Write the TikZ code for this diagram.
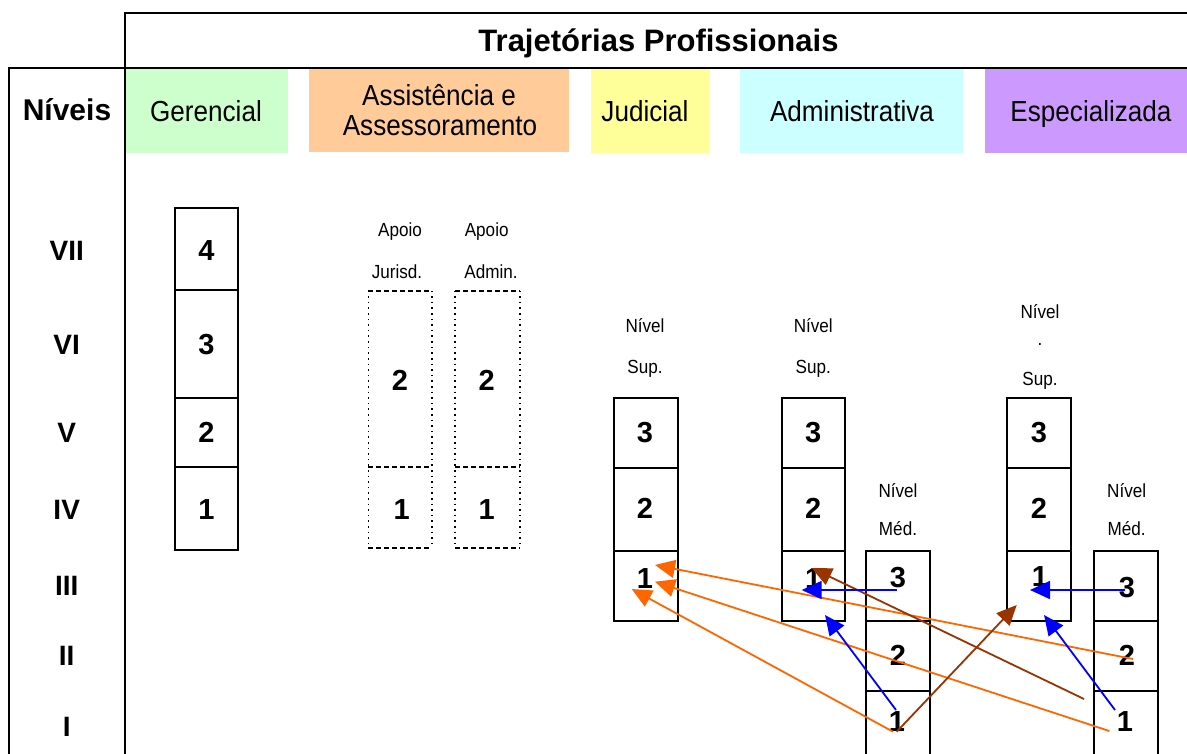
\documentclass[tikz,border=0pt]{standalone}
\usepackage{fontspec}
\setmainfont{Liberation Sans}
\newfontfamily\nar[FakeStretch=0.9]{Liberation Sans}
\usetikzlibrary{arrows.meta}
\definecolor{cGer}{HTML}{CCFFCC}
\definecolor{cAss}{HTML}{FFCC99}
\definecolor{cJud}{HTML}{FFFF99}
\definecolor{cAdm}{HTML}{CCFFFF}
\definecolor{cEsp}{HTML}{CC99FF}
\definecolor{cOr}{HTML}{FF6600}
\definecolor{cBr}{HTML}{993300}
\definecolor{cBl}{HTML}{0000FF}
\begin{document}
\begin{tikzpicture}[x=1pt,y=-1pt,
  frame/.style={line width=2pt},
  hdrbox/.style={anchor=north west, inner sep=0pt, outer sep=0pt},
  hdrtxt/.style={anchor=base, inner sep=0pt, font=\nar\fontsize{29}{31}\selectfont},
  title/.style={anchor=base, inner sep=0pt, font=\bfseries\fontsize{31}{33}\selectfont},
  roman/.style={inner sep=0pt, font=\bfseries\fontsize{28}{30}\selectfont},
  num/.style={inner sep=0pt, font=\bfseries\fontsize{29}{31}\selectfont},
  small/.style={anchor=base, inner sep=0pt, font=\nar\fontsize{19}{21}\selectfont},
  cell/.style={draw, line width=2pt, anchor=north west, inner sep=0pt, outer sep=0pt},
  dotv/.style={line width=1.6pt, dash pattern=on 1.6pt off 4pt},
  doth/.style={line width=1.8pt, dash pattern=on 5pt off 3pt},
  arr/.style={line width=1.8pt, -{Triangle[length=20pt,width=18pt]}},
  arrO/.style={arr, draw=cOr, fill=cOr},
  arrB/.style={arr, draw=cBr, fill=cBr},
  arrL/.style={arr, draw=cBl, fill=cBl}
]
\useasboundingbox (0,0) rectangle (1187,754);
\fill[white] (0,0) rectangle (1187,754);

% header colour boxes
\node[hdrbox, fill=cGer, minimum width=162pt, minimum height=85pt] (hGer) at (126,68) {};
\node[hdrbox, fill=cAss, minimum width=260pt, minimum height=84pt] (hAss) at (309,68) {};
\node[hdrbox, fill=cJud, minimum width=119pt, minimum height=85pt] (hJud) at (591,68) {};
\node[hdrbox, fill=cAdm, minimum width=223pt, minimum height=85pt] (hAdm) at (740,68) {};
\node[hdrbox, fill=cEsp, minimum width=203pt, minimum height=85pt] (hEsp) at (985,68) {};

% frame
\coordinate (fTL) at (125,12.7);
\coordinate (fTR) at (1187,12.7);
\coordinate (fML) at (9,67.7);
\coordinate (fMR) at (1187,67.7);
\coordinate (fB1) at (9,754);
\coordinate (fB2) at (125,754);
\draw[frame] (fTR) -- (fTL) -- (fB2);
\draw[frame] (fMR) -- (fML) -- (fB1);

% header texts
\node[title] (tTit) at (658.5,52) {Trajetórias Profissionais};
\node[title, font=\bfseries\fontsize{30}{32}\selectfont] (tNiv) at (67,121) {Níveis};
\node[hdrtxt] (tGer) at (206,121.7) {Gerencial};
\node[hdrtxt] (tAss1) at (439,106) {Assistência e};
\node[hdrtxt] (tAss2) at (440,136) {Assessoramento};
\node[hdrtxt] (tJud) at (645,121.7) {Judicial};
\node[hdrtxt] (tAdm) at (852,121.7) {Administrativa};
\node[hdrtxt] (tEsp) at (1091,121.7) {Especializada};

% level numerals
\node[roman] (rVII) at (66.7,251) {VII};
\node[roman] (rVI) at (66.7,345) {VI};
\node[roman] (rV) at (66.7,433) {V};
\node[roman] (rIV) at (66.7,509.5) {IV};
\node[roman] (rIII) at (66.7,586) {III};
\node[roman] (rII) at (66.7,656) {II};
\node[roman] (rI) at (66.7,727) {I};

% Gerencial column
\node[cell, minimum width=63pt, minimum height=82pt] (g4) at (175,208.5) {};
\node[cell, minimum width=63pt, minimum height=107.3pt] (g3) at (175,290.5) {};
\node[cell, minimum width=63pt, minimum height=69.5pt] (g2) at (175,397.8) {};
\node[cell, minimum width=63pt, minimum height=83.1pt] (g1) at (175,467.3) {};
\node[num] at (206.5,251) {4};
\node[num] at (206.5,344.5) {3};
\node[num] at (206.5,432.5) {2};
\node[num] at (206.5,509.5) {1};

% Assistencia (dotted)
\coordinate (aJ1) at (368.3,290.7);
\coordinate (aJ2) at (431.7,290.7);
\coordinate (aJ3) at (368.3,467.3);
\coordinate (aJ4) at (431.7,467.3);
\coordinate (aJ5) at (368.3,548);
\coordinate (aJ6) at (431.7,548);
\draw[doth] (aJ1) -- (aJ2) (aJ3) -- (aJ4) (aJ5) -- (aJ6);
\draw[dotv] (aJ1) -- (aJ5) (aJ2) -- (aJ6);
\coordinate (aA1) at (455,290.7);
\coordinate (aA2) at (520,290.7);
\coordinate (aA3) at (455,467.3);
\coordinate (aA4) at (520,467.3);
\coordinate (aA5) at (455,548);
\coordinate (aA6) at (520,548);
\draw[doth] (aA1) -- (aA2) (aA3) -- (aA4) (aA5) -- (aA6);
\draw[dotv] (aA1) -- (aA5) (aA2) -- (aA6);
\node[small] (lAp1) at (400,237) {Apoio};
\node[small] (lJur) at (397,278.5) {Jurisd.};
\node[small] (lAp2) at (486.7,237) {Apoio};
\node[small] (lAdm) at (491,278.5) {Admin.};
\node[num] (aj2) at (400,380) {2};
\node[num] (aa2) at (486.7,380) {2};
\node[num] (aj1) at (401.7,510) {1};
\node[num] (aa1) at (486.7,510) {1};

% Judicial
\node[cell, minimum width=64pt, minimum height=70pt] (j3) at (614,397.7) {};
\node[cell, minimum width=64pt, minimum height=83.3pt] (j2) at (614,467.7) {};
\node[cell, minimum width=64pt, minimum height=70pt] (j1) at (614,551) {};
\node[num] at (645,433) {3};
\node[num] at (645,508.3) {2};
\node[num] (tj1) at (645,578.3) {1};
\node[small] at (645,332) {Nível};
\node[small] at (645,373.5) {Sup.};

% Administrativa superior
\node[cell, minimum width=63.3pt, minimum height=70pt] (as3) at (781.7,397.7) {};
\node[cell, minimum width=63.3pt, minimum height=83.3pt] (as2) at (781.7,467.7) {};
\node[cell, minimum width=63.3pt, minimum height=70pt] (as1) at (781.7,551) {};
\node[num] at (813.3,433) {3};
\node[num] at (813.3,508.3) {2};
\node[num] (tas1) at (813.3,578.3) {1};
\node[small] at (813.3,332) {Nível};
\node[small] at (813.3,373.5) {Sup.};

% Administrativa medio
\node[cell, minimum width=64pt, minimum height=70pt] (am3) at (866,551) {};
\node[cell, minimum width=64pt, minimum height=70pt] (am2) at (866,621) {};
\node[cell, minimum width=64pt, minimum height=80pt] (am1) at (866,691) {};
\node[num] (tam3) at (898,578) {3};
\node[num] (tam2) at (898,655) {2};
\node[num] (tam1) at (897,722) {1};
\node[small] at (898,497) {Nível};
\node[small] at (898,535) {Méd.};

% Especializada superior
\node[cell, minimum width=64.3pt, minimum height=70pt] (es3) at (1006.7,397.7) {};
\node[cell, minimum width=64.3pt, minimum height=83.3pt] (es2) at (1006.7,467.7) {};
\node[cell, minimum width=64.3pt, minimum height=70pt] (es1) at (1006.7,551) {};
\node[num] at (1039,433) {3};
\node[num] at (1039,508.3) {2};
\node[num] (tes1) at (1040,577) {1};
\node[small] at (1040,318.5) {Nível};
\node[small] at (1040,345) {.};
\node[small] at (1040,385) {Sup.};

% Especializada medio
\node[cell, minimum width=63.4pt, minimum height=70pt] (em3) at (1094.3,551) {};
\node[cell, minimum width=63.4pt, minimum height=70pt] (em2) at (1094.3,621) {};
\node[cell, minimum width=63.4pt, minimum height=80pt] (em1) at (1094.3,691) {};
\node[num] (tem3) at (1127,588) {3};
\node[num] (tem2) at (1127,655) {2};
\node[num] (tem1) at (1125,722) {1};
\node[small] at (1126.7,497) {Nível};
\node[small] at (1126.7,535) {Méd.};

% arrow end points
\coordinate (pJa) at (655,565);
\coordinate (pJb) at (655,581.7);
\coordinate (pJc) at (631.7,589);
\coordinate (pAsBr) at (811.7,568);
\coordinate (pAsH) at (801.7,590);
\coordinate (pAsD) at (825,615);
\coordinate (pEsH) at (1030,590);
\coordinate (pEsD) at (1044,615);
\coordinate (pEsBr) at (1016.7,605);
\coordinate (sAm3) at (896.7,590);
\coordinate (sAm1a) at (896,710);
\coordinate (sAm1b) at (893,731.7);
\coordinate (sAm1c) at (896.7,731.7);
\coordinate (sEm3) at (1125,590);
\coordinate (sEm2) at (1133,659);
\coordinate (sEm1a) at (1109.3,731);
\coordinate (sEm1b) at (1115,710);
\coordinate (sEmX) at (1084,699);

% arrows
\draw[arrO] (sEm2) -- (pJa);
\draw[arrO] (sEm1a) -- (pJb);
\draw[arrO] (sAm1b) -- (pJc);
\draw[arrB] (sEmX) -- (pAsBr);
\draw[arrB] (sAm1c) -- (pEsBr);
\draw[arrL] (sAm3) -- (pAsH);
\draw[arrL] (sAm1a) -- (pAsD);
\draw[arrL] (sEm3) -- (pEsH);
\draw[arrL] (sEm1b) -- (pEsD);
\end{tikzpicture}
\end{document}
